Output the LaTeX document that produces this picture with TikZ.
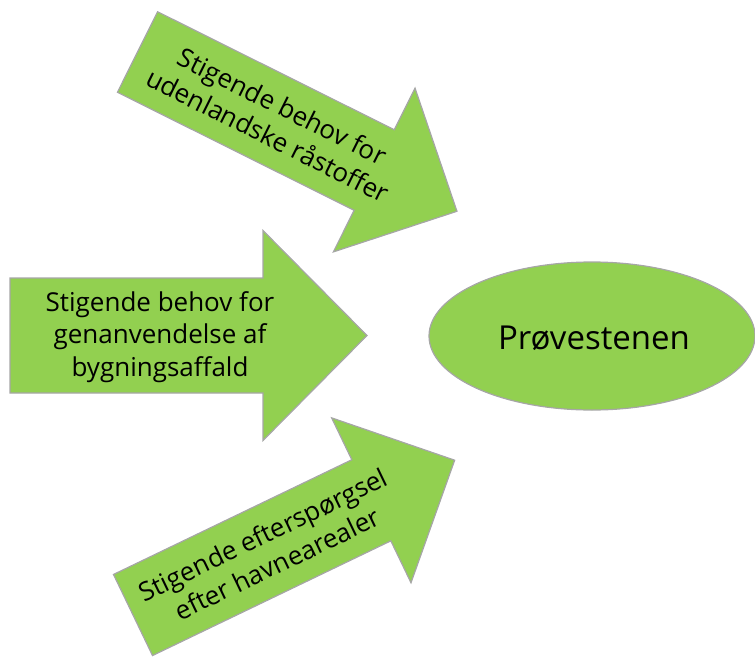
\documentclass[tikz,border=0pt]{standalone}
\usepackage{fontspec}
\setmainfont{Open Sans}
\usetikzlibrary{shapes.geometric}
\definecolor{arrowgreen}{HTML}{92D050}
\definecolor{edgegray}{HTML}{A6A6A6}
\begin{document}
\begin{tikzpicture}[x=1pt,y=-1pt,
  shapebox/.style={fill=arrowgreen,draw=edgegray,line width=1.2pt,line join=miter},
  lbl/.style={align=center,font=\fontsize{26}{32.5}\selectfont,inner sep=0pt}]
\useasboundingbox (0,0) rectangle (755,656);
% middle arrow
\begin{scope}[shift={(10,335.5)}]
  \draw[shapebox] (0,-57.5) -- (253,-57.5) -- (253,-105) -- (357,0) -- (253,105) -- (253,57.5) -- (0,57.5) -- cycle;
\end{scope}
\node[lbl] (mid) at (160,337) {Stigende behov for\\genanvendelse af\\bygningsaffald};
% top arrow
\begin{scope}[shift={(137.5,52)},rotate=-26.5]
  \draw[shapebox] (0,-45) -- (264.5,-45) -- (264.5,-91.5) -- (357,0) -- (264.5,91.5) -- (264.5,45) -- (0,45) -- cycle;
  \coordinate (topc) at (154,0);
\end{scope}
\node[lbl,rotate=-26.5] (top) at (topc) {Stigende behov for\\udenlandske råstoffer};
% bottom arrow
\begin{scope}[shift={(133,615)},rotate=25.7]
  \draw[shapebox] (0,-45) -- (264.5,-45) -- (264.5,-91.5) -- (357,0) -- (264.5,91.5) -- (264.5,45) -- (0,45) -- cycle;
  \coordinate (botc) at (152,0);
\end{scope}
\node[lbl,rotate=25.7] (bot) at (botc) {Stigende efterspørgsel\\efter havnearealer};
% ellipse
\node[shapebox,ellipse,minimum width=326,minimum height=148,inner sep=0pt] (prove) at (592,336) {};
\node[font=\fontsize{33}{40}\selectfont,inner sep=0pt] (provetext) at (594,338) {Prøvestenen};
\end{tikzpicture}
\end{document}
